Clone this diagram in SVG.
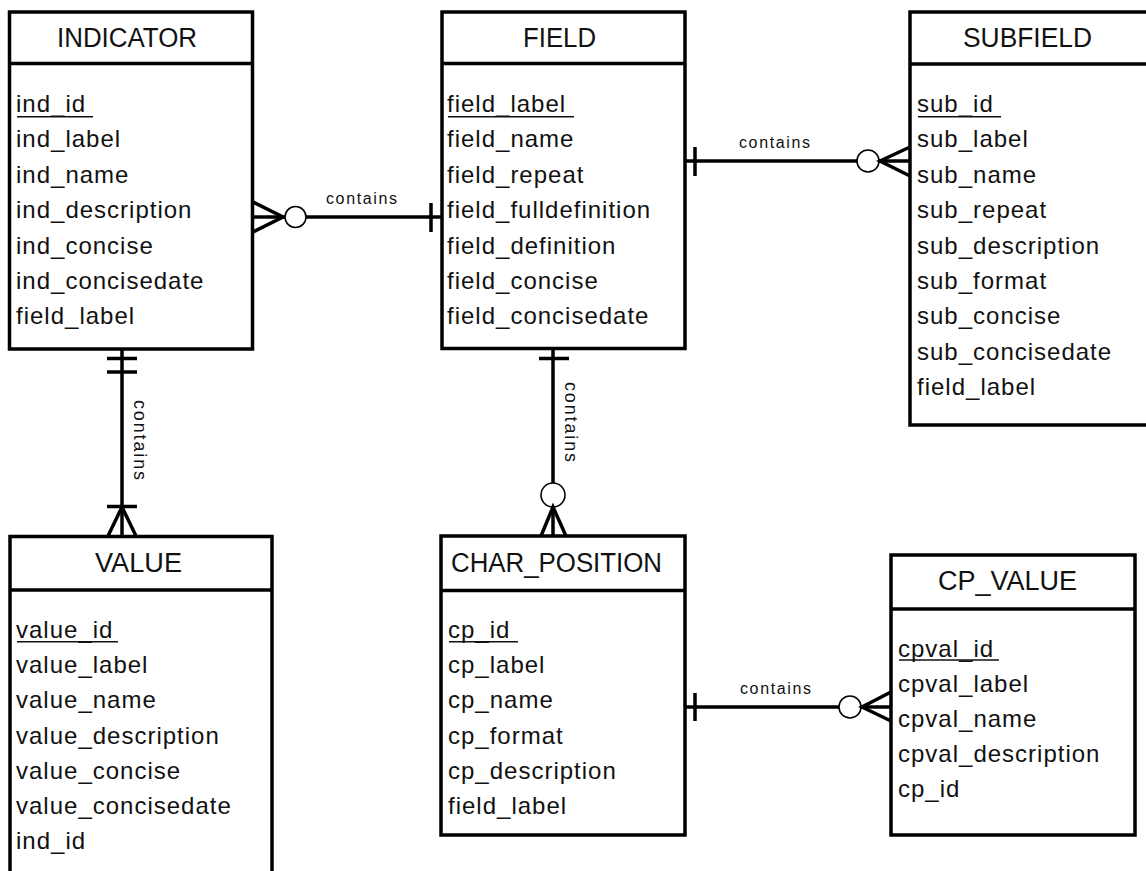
<svg xmlns="http://www.w3.org/2000/svg" width="1146" height="871" viewBox="0 0 1146 871">
<style>
.box{fill:#fff;stroke:#000;stroke-width:3.5}
.div{stroke:#000;stroke-width:3.5}
.hdr{font-family:"Liberation Sans",Arial,sans-serif;font-size:27px;fill:#111}
.attr{font-family:"Liberation Sans",Arial,sans-serif;font-size:24px;letter-spacing:1px;fill:#111}
.ul{stroke:#111;stroke-width:1.5}
.conn{stroke:#000;stroke-width:3.5;fill:none}
.circ{fill:#fff;stroke:#000;stroke-width:1.6}
.lbl{font-family:"Liberation Sans",Arial,sans-serif;font-size:16px;fill:#111}
.vlbl{font-family:"Liberation Sans",Arial,sans-serif;font-size:18px;fill:#111}
</style>
<rect width="1146" height="871" fill="#fff"/>

<g id="connectors">
  <!-- INDICATOR - FIELD -->
  <line class="conn" x1="253" y1="217" x2="442" y2="217"/>
  <polyline class="conn" points="253,202 283,217 253,232"/>
  <circle class="circ" cx="295.5" cy="217" r="10.5"/>
  <line class="conn" x1="431" y1="203" x2="431" y2="232"/>
  <text class="lbl" x="326" y="204" textLength="71">contains</text>

  <!-- FIELD - SUBFIELD -->
  <line class="conn" x1="685" y1="161" x2="910" y2="161"/>
  <line class="conn" x1="695" y1="147" x2="695" y2="176"/>
  <circle class="circ" cx="868" cy="161" r="11"/>
  <polyline class="conn" points="910,147 880,161 910,176"/>
  <text class="lbl" x="739" y="148" textLength="71">contains</text>

  <!-- INDICATOR - VALUE -->
  <line class="conn" x1="122" y1="349" x2="122" y2="536"/>
  <line class="conn" x1="107" y1="358.5" x2="137" y2="358.5"/>
  <line class="conn" x1="107" y1="372" x2="137" y2="372"/>
  <line class="conn" x1="107" y1="506.5" x2="137" y2="506.5"/>
  <polyline class="conn" points="108,536 122,507 136,536"/>
  <text class="vlbl" transform="translate(134,400) rotate(90)" textLength="80">contains</text>

  <!-- FIELD - CHAR_POSITION -->
  <line class="conn" x1="553" y1="349" x2="553" y2="536"/>
  <line class="conn" x1="539" y1="358.5" x2="569" y2="358.5"/>
  <circle class="circ" cx="553" cy="495" r="12"/>
  <polyline class="conn" points="541,536 553,507 566,536"/>
  <text class="vlbl" transform="translate(565,382) rotate(90)" textLength="80">contains</text>

  <!-- CHAR_POSITION - CP_VALUE -->
  <line class="conn" x1="685" y1="707" x2="891" y2="707"/>
  <line class="conn" x1="695" y1="693" x2="695" y2="721"/>
  <circle class="circ" cx="850" cy="707" r="11"/>
  <polyline class="conn" points="891,692 862,707 891,721"/>
  <text class="lbl" x="740" y="694" textLength="71">contains</text>
</g>

<g id="indicator">
  <rect class="box" x="9.5" y="12" width="243" height="337"/>
  <line class="div" x1="9.5" y1="63.5" x2="252.5" y2="63.5"/>
  <text class="hdr" x="57" y="47" textLength="140" lengthAdjust="spacingAndGlyphs">INDICATOR</text>
  <text class="attr" x="16">
    <tspan x="16" y="112">ind_id</tspan>
    <tspan x="16" y="147.4">ind_label</tspan>
    <tspan x="16" y="182.8">ind_name</tspan>
    <tspan x="16" y="218.2">ind_description</tspan>
    <tspan x="16" y="253.6">ind_concise</tspan>
    <tspan x="16" y="289">ind_concisedate</tspan>
    <tspan x="16" y="324.4">field_label</tspan>
  </text>
  <line class="ul" x1="17" y1="116.7" x2="93" y2="116.7"/>
</g>

<g id="field">
  <rect class="box" x="442" y="12" width="243" height="336.5"/>
  <line class="div" x1="442" y1="63.5" x2="685" y2="63.5"/>
  <text class="hdr" x="523" y="47" textLength="73" lengthAdjust="spacingAndGlyphs">FIELD</text>
  <text class="attr">
    <tspan x="447" y="112">field_label</tspan>
    <tspan x="447" y="147.4">field_name</tspan>
    <tspan x="447" y="182.8">field_repeat</tspan>
    <tspan x="447" y="218.2">field_fulldefinition</tspan>
    <tspan x="447" y="253.6">field_definition</tspan>
    <tspan x="447" y="289">field_concise</tspan>
    <tspan x="447" y="324.4">field_concisedate</tspan>
  </text>
  <line class="ul" x1="448" y1="116.7" x2="574" y2="116.7"/>
</g>

<g id="subfield">
  <rect class="box" x="910" y="12" width="250" height="413"/>
  <line class="div" x1="910" y1="64" x2="1160" y2="64"/>
  <text class="hdr" x="963" y="47" textLength="129" lengthAdjust="spacingAndGlyphs">SUBFIELD</text>
  <text class="attr">
    <tspan x="917" y="112">sub_id</tspan>
    <tspan x="917" y="147.4">sub_label</tspan>
    <tspan x="917" y="182.8">sub_name</tspan>
    <tspan x="917" y="218.2">sub_repeat</tspan>
    <tspan x="917" y="253.6">sub_description</tspan>
    <tspan x="917" y="289">sub_format</tspan>
    <tspan x="917" y="324.4">sub_concise</tspan>
    <tspan x="917" y="359.8">sub_concisedate</tspan>
    <tspan x="917" y="395.2">field_label</tspan>
  </text>
  <line class="ul" x1="918" y1="116.7" x2="1001" y2="116.7"/>
</g>

<g id="value">
  <rect class="box" x="10" y="536.5" width="262" height="360"/>
  <line class="div" x1="10" y1="590" x2="272" y2="590"/>
  <text class="hdr" x="95" y="572" textLength="87" lengthAdjust="spacingAndGlyphs">VALUE</text>
  <text class="attr">
    <tspan x="16" y="638">value_id</tspan>
    <tspan x="16" y="673.2">value_label</tspan>
    <tspan x="16" y="708.4">value_name</tspan>
    <tspan x="16" y="743.6">value_description</tspan>
    <tspan x="16" y="778.8">value_concise</tspan>
    <tspan x="16" y="814">value_concisedate</tspan>
    <tspan x="16" y="849.2">ind_id</tspan>
  </text>
  <line class="ul" x1="17" y1="641.7" x2="118" y2="641.7"/>
</g>

<g id="char_position">
  <rect class="box" x="441" y="536" width="244" height="299"/>
  <line class="div" x1="441" y1="590.5" x2="685" y2="590.5"/>
  <text class="hdr" x="451" y="572" textLength="211" lengthAdjust="spacingAndGlyphs">CHAR_POSITION</text>
  <text class="attr">
    <tspan x="448" y="638">cp_id</tspan>
    <tspan x="448" y="673.2">cp_label</tspan>
    <tspan x="448" y="708.4">cp_name</tspan>
    <tspan x="448" y="743.6">cp_format</tspan>
    <tspan x="448" y="778.8">cp_description</tspan>
    <tspan x="448" y="814">field_label</tspan>
  </text>
  <line class="ul" x1="449" y1="641.7" x2="518" y2="641.7"/>
</g>

<g id="cp_value">
  <rect class="box" x="891" y="555" width="244" height="280"/>
  <line class="div" x1="891" y1="609" x2="1135" y2="609"/>
  <text class="hdr" x="938" y="590" textLength="139" lengthAdjust="spacingAndGlyphs">CP_VALUE</text>
  <text class="attr">
    <tspan x="898" y="657">cpval_id</tspan>
    <tspan x="898" y="692">cpval_label</tspan>
    <tspan x="898" y="727">cpval_name</tspan>
    <tspan x="898" y="762">cpval_description</tspan>
    <tspan x="898" y="797">cp_id</tspan>
  </text>
  <line class="ul" x1="899" y1="660" x2="999" y2="660"/>
</g>
</svg>
